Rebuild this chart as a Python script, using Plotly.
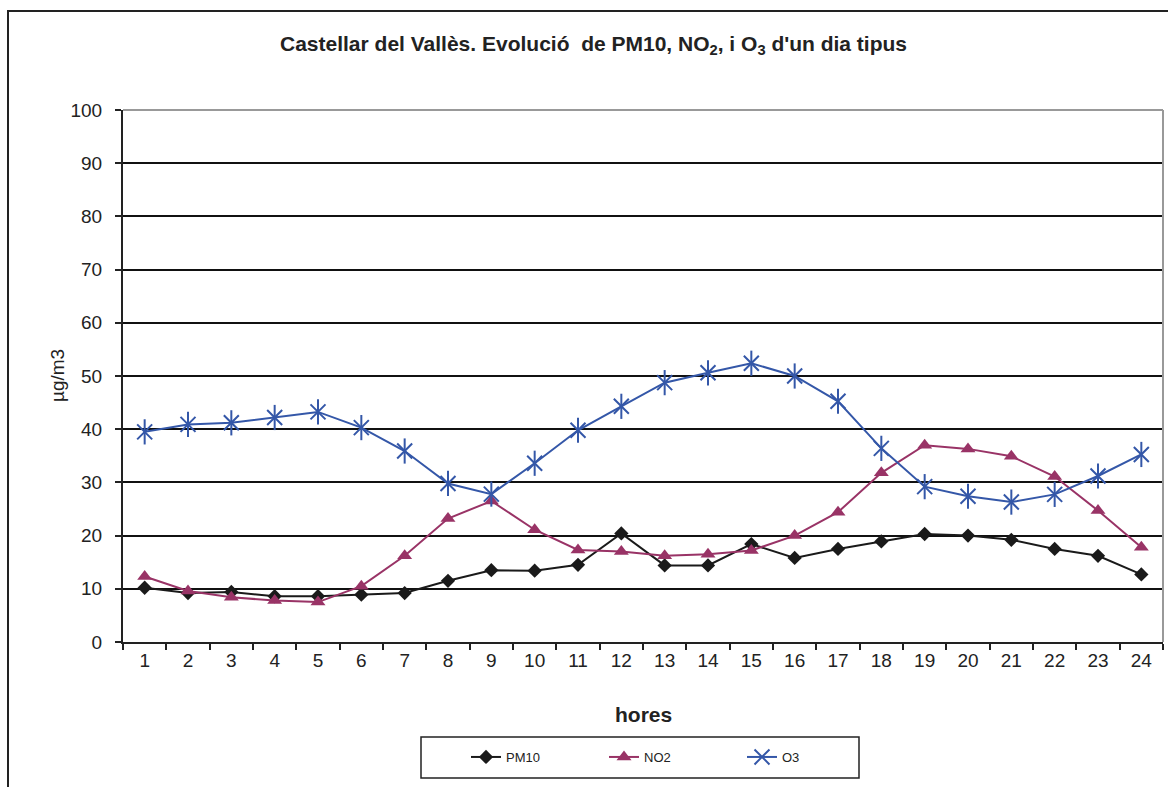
import plotly.graph_objects as go

# Hourly typical-day averages (µg/m3)
hores = [str(h) for h in range(1, 25)]
pm10 = [10.2, 9.2, 9.4, 8.6, 8.6, 8.9, 9.2, 11.5, 13.5, 13.4, 14.5, 20.4,
        14.4, 14.4, 18.4, 15.8, 17.5, 18.9, 20.3, 20.0, 19.2, 17.5, 16.2, 12.7]
no2 = [12.3, 9.6, 8.4, 7.8, 7.5, 10.5, 16.2, 23.2, 26.5, 21.1, 17.3, 17.0,
       16.2, 16.5, 17.2, 20.0, 24.4, 31.8, 37.0, 36.3, 34.9, 31.1, 24.7, 17.8]
o3 = [39.5, 40.9, 41.2, 42.2, 43.25, 40.3, 35.9, 29.8, 27.8, 33.6, 39.8, 44.3,
      48.75, 50.6, 52.4, 50.0, 45.25, 36.4, 29.2, 27.4, 26.3, 27.75, 31.2, 35.25]

FONT = "Arial, Liberation Sans, sans-serif"
W, H = 1168, 787
L, R, T, B = 123, 5, 110, 145
PW, PH = W - L - R, H - T - B


def px(x):
    return (x - L) / PW


def py(y):
    return (H - B - y) / PH


C_PM = "#1a1a1a"
C_NO2 = "#993366"
C_O3 = "#3457a8"

fig = go.Figure()
fig.add_trace(go.Scatter(
    x=hores, y=pm10, name="PM10", mode="lines+markers",
    line=dict(color=C_PM, width=2),
    marker=dict(symbol="diamond", size=11, color=C_PM)))
fig.add_trace(go.Scatter(
    x=hores, y=no2, name="NO2", mode="lines+markers",
    line=dict(color=C_NO2, width=2),
    marker=dict(symbol="triangle-up", size=13, color=C_NO2)))
fig.add_trace(go.Scatter(
    x=hores, y=o3, name="O3", mode="lines+markers",
    line=dict(color=C_O3, width=2),
    marker=dict(symbol="x-thin-open", size=15, color=C_O3,
                line=dict(color=C_O3, width=2))))
# vertical stroke completing the asterisk marker
fig.add_trace(go.Scatter(
    x=hores, y=o3, mode="markers", showlegend=False, hoverinfo="skip",
    marker=dict(symbol="line-ns-open", size=18, color=C_O3,
                line=dict(color=C_O3, width=2))))

shapes = [
    # outer frame
    dict(type="rect", xref="paper", yref="paper",
         x0=px(8), x1=px(1180), y0=py(800), y1=py(11),
         line=dict(color="#222", width=2), layer="below"),
    # grey plot border (top and right)
    dict(type="line", xref="paper", yref="paper", x0=0, x1=1, y0=1, y1=1,
         line=dict(color="#999", width=2)),
    dict(type="line", xref="paper", yref="paper", x0=1, x1=1, y0=0, y1=1,
         line=dict(color="#999", width=2)),
    # legend frame
    dict(type="rect", xref="paper", yref="paper",
         x0=px(421), x1=px(859), y0=py(778), y1=py(737),
         line=dict(color="#222", width=1.5)),
]

annotations = [
    dict(text="<b>Castellar del Vallès. Evolució  de PM10, NO<sub>2</sub>, i O<sub>3</sub> d'un dia tipus</b>",
         xref="paper", yref="paper", x=px(593), y=py(45), showarrow=False,
         xanchor="center", yanchor="middle",
         font=dict(family=FONT, size=21, color="#222")),
    dict(text="<b>hores</b>", xref="paper", yref="paper", x=px(643), y=py(714),
         showarrow=False, xanchor="center", yanchor="middle",
         font=dict(family=FONT, size=21, color="#222")),
    dict(text="µg/m3", xref="paper", yref="paper", x=px(57), y=py(376),
         showarrow=False, xanchor="center", yanchor="middle", textangle=-90,
         font=dict(family=FONT, size=19, color="#222")),
]

fig.update_layout(
    width=W, height=H,
    margin=dict(l=L, r=R, t=T, b=B, pad=0),
    paper_bgcolor="white", plot_bgcolor="white",
    font=dict(family=FONT, color="#222"),
    shapes=shapes, annotations=annotations,
    showlegend=True,
    legend=dict(orientation="h", x=px(673), y=py(757),
                xanchor="center", yanchor="middle",
                bgcolor="rgba(0,0,0,0)", borderwidth=0,
                entrywidth=93, entrywidthmode="pixels",
                font=dict(family=FONT, size=13, color="#222"),
                itemclick=False),
    xaxis=dict(type="category", tickson="boundaries", range=[-0.5, 23.5],
               ticks="outside", ticklen=6, tickwidth=1.5, tickcolor="#222",
               showline=True, linecolor="#222", linewidth=2,
               showgrid=False, zeroline=False,
               tickfont=dict(family=FONT, size=19, color="#222")),
    yaxis=dict(range=[0, 100], dtick=10, tick0=0,
               ticks="outside", ticklen=6, tickwidth=1.5, tickcolor="#222",
               showline=True, linecolor="#222", linewidth=2,
               showgrid=True, gridcolor="#111", gridwidth=2,
               zeroline=False, ticklabelstandoff=9,
               tickfont=dict(family=FONT, size=19, color="#222")),
)

fig.write_html("out.html")
